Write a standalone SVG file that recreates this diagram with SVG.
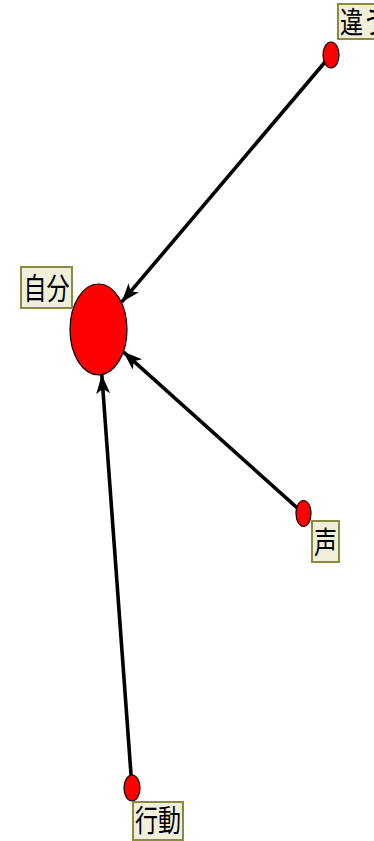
<svg xmlns="http://www.w3.org/2000/svg" width="374" height="841" viewBox="0 0 374 841">
  <style>
    .dot { fill: #ff0000; stroke: #000000; stroke-width: 1.2; }
    .edge { stroke: #000000; stroke-width: 3.6; fill: none; marker-end: url(#arrow); }
    .tag { fill: #efefdc; stroke: #8a8a40; stroke-width: 2; }
    .lbl { font-family: "Noto Sans CJK JP", "Noto Sans CJK SC", sans-serif; font-size: 23px; fill: #000000; }
  </style>
  <defs>
    <marker id="arrow" markerUnits="userSpaceOnUse" markerWidth="22" markerHeight="16" refX="19" refY="7" orient="auto">
      <path d="M0,0 L19,7 L0,14 L5,7 z" fill="#000000"/>
    </marker>
  </defs>
  <rect width="374" height="841" fill="#ffffff"/>

  <g id="connectors">
    <line class="edge" x1="331" y1="55" x2="121.6" y2="302.2"/>
    <line class="edge" x1="303.5" y1="513.5" x2="123.3" y2="351.8"/>
    <line class="edge" x1="132" y1="788" x2="101.8" y2="374.7"/>
  </g>

  <g id="node-jibun">
    <ellipse class="dot" cx="98.5" cy="329.5" rx="28.5" ry="45.5"/>
    <rect class="tag" x="21" y="267" width="51" height="41"/>
    <text class="lbl" transform="translate(46.5,299) scale(1,1.3)" text-anchor="middle">自分</text>
  </g>

  <g id="node-chigau">
    <ellipse class="dot" cx="331" cy="55" rx="8" ry="13"/>
    <rect class="tag" x="338" y="4" width="51" height="35"/>
    <text class="lbl" transform="translate(340,33) scale(1,1.3)">違う</text>
  </g>

  <g id="node-koe">
    <ellipse class="dot" cx="303.5" cy="513.5" rx="7.5" ry="13"/>
    <rect class="tag" x="312" y="521" width="27" height="41"/>
    <text class="lbl" transform="translate(325.5,553) scale(1,1.3)" text-anchor="middle">声</text>
  </g>

  <g id="node-koudou">
    <ellipse class="dot" cx="132" cy="788" rx="8" ry="13"/>
    <rect class="tag" x="133" y="802" width="50" height="38"/>
    <text class="lbl" transform="translate(158,831) scale(1,1.3)" text-anchor="middle">行動</text>
  </g>
</svg>
